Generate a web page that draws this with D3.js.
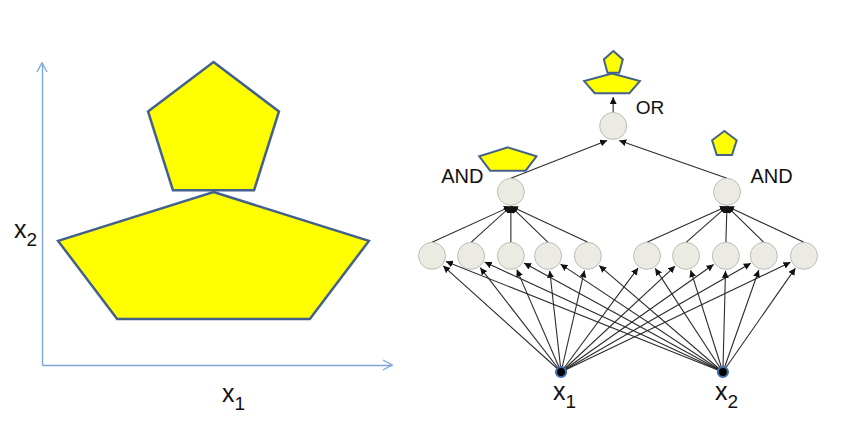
<!DOCTYPE html>
<html>
<head>
<meta charset="utf-8">
<script src="https://cdn.jsdelivr.net/npm/d3@7"></script>
<style>
  body { margin: 0; background: #fff; }
  text { font-family: "Liberation Sans", Arial, sans-serif; fill: #111; }
</style>
</head>
<body>
<div id="chart"></div>
<script>
// unit pentagon (x from left, y from top), every yellow shape is this one stretched
var pentagon = [[0.5, 0], [1, 0.385], [0.81, 1], [0.19, 1], [0, 0.385]];

// left panel: boxes of the two regions in axis units
var regionX0 = [3.03, 0.46];
var regionX1 = [6.77, 9.34];
var regionTop = [10.03, 5.73];
var regionBottom = [5.79, 1.52];

// right panel: network layout units
var inputX = [3.47, 7.82];
var inputNames = ["1", "2"];
var hiddenX = [0, 1.05, 2.12, 3.12, 4.19, 5.78, 6.83, 7.90, 8.92, 10];
var hiddenGroup = [0, 0, 0, 0, 0, 1, 1, 1, 1, 1];
var andX = [2.12, 7.93];
var orX = 4.87;
var layerY = {input: 0, hidden: 3.63, and: 5.63, or: 7.69, out: 8.59};

// little shapes drawn next to the gates
var iconX0 = [4.62, 4.09, 1.27, 7.53];
var iconX1 = [5.13, 5.59, 2.81, 8.19];
var iconTop = [10.03, 9.33, 7.02, 7.53];
var iconBottom = [9.35, 8.71, 6.29, 6.78];

var width = 848, height = 422;
var r = 13.5;

var svg = d3.select("#chart")
  .append("svg")
    .attr("width", width)
    .attr("height", height);

var defs = svg.append("defs");
defs.append("marker")
    .attr("id", "head")
    .attr("viewBox", "0 0 10 10")
    .attr("refX", 10)
    .attr("refY", 5)
    .attr("markerWidth", 7)
    .attr("markerHeight", 7)
    .attr("markerUnits", "userSpaceOnUse")
    .attr("orient", "auto")
  .append("path")
    .attr("d", "M0,0L10,5L0,10z")
    .attr("fill", "#111");

// ---------- left panel ----------
var xL = d3.scaleLinear().domain([0, 10]).range([42, 392]);
var yL = d3.scaleLinear().domain([0, 10]).range([365, 63]);
var axisColor = "#7ea6d8";

var xAxis = svg.append("g")
  .attr("transform", "translate(0," + yL(0) + ")")
  .call(d3.axisBottom(xL).tickValues([]).tickSizeOuter(0));
var yAxis = svg.append("g")
  .attr("transform", "translate(" + xL(0) + ",0)")
  .call(d3.axisLeft(yL).tickValues([]).tickSizeOuter(0));
[xAxis, yAxis].forEach(function(a) {
  a.select(".domain").attr("stroke", axisColor).attr("stroke-width", 1.4);
});

// open arrow heads at the axis ends
svg.append("path")
  .attr("d", "M" + (xL(10) - 9) + "," + (yL(0) - 5) + "L" + xL(10) + "," + yL(0) + "L" + (xL(10) - 9) + "," + (yL(0) + 5))
  .attr("fill", "none").attr("stroke", axisColor).attr("stroke-width", 1.4);
svg.append("path")
  .attr("d", "M" + (xL(0) - 5) + "," + (yL(10) + 9) + "L" + xL(0) + "," + yL(10) + "L" + (xL(0) + 5) + "," + (yL(10) + 9))
  .attr("fill", "none").attr("stroke", axisColor).attr("stroke-width", 1.4);

function shape(xs, ys, x0, x1, top, bottom) {
  return d3.line()
    .x(function(d) { return xs(x0 + d[0] * (x1 - x0)); })
    .y(function(d) { return ys(top + d[1] * (bottom - top)); })
    .curve(d3.curveLinearClosed)(pentagon);
}

svg.selectAll(".region")
  .data(regionX0)
  .enter()
  .append("path")
    .attr("class", "region")
    .attr("d", function(d, i) { return shape(xL, yL, regionX0[i], regionX1[i], regionTop[i], regionBottom[i]); })
    .attr("fill", "#ffff00")
    .attr("stroke", "#43618c")
    .attr("stroke-width", 2.5)
    .attr("stroke-linejoin", "miter");

// axis labels with subscripts
function subLabel(x, y, sub) {
  var t = svg.append("text")
    .attr("x", x)
    .attr("y", y)
    .style("font-size", "25px")
    .text("x");
  t.append("tspan")
    .attr("dy", 8)
    .style("font-size", "19px")
    .text(sub);
}
subLabel(xL(5) + 5, yL(0) + 37, "1");
subLabel(xL(0) - 28, yL(4.2), "2");

// ---------- right panel ----------
var xN = d3.scaleLinear().domain([0, 10]).range([432, 804]);
var yN = d3.scaleLinear().domain([0, 10]).range([372, 52]);

var edges = svg.append("g")
  .attr("stroke", "#2b2b2b")
  .attr("stroke-width", 1.1);

// input -> hidden, ending on the node rim
inputX.forEach(function(ix) {
  hiddenX.forEach(function(hx) {
    var x0 = xN(ix), y0 = yN(layerY.input), x1 = xN(hx), y1 = yN(layerY.hidden);
    var len = Math.hypot(x1 - x0, y1 - y0);
    var k = (len - r - 1.5) / len;
    edges.append("line")
      .attr("x1", x0).attr("y1", y0)
      .attr("x2", x0 + (x1 - x0) * k).attr("y2", y0 + (y1 - y0) * k)
      .attr("marker-end", "url(#head)");
  });
});

// hidden -> AND
hiddenX.forEach(function(hx, i) {
  edges.append("line")
    .attr("x1", xN(hx)).attr("y1", yN(layerY.hidden) - r)
    .attr("x2", xN(andX[hiddenGroup[i]])).attr("y2", yN(layerY.and) + r + 1)
    .attr("marker-end", "url(#head)");
});

// AND -> OR
andX.forEach(function(ax, i) {
  edges.append("line")
    .attr("x1", xN(ax)).attr("y1", yN(layerY.and) - r)
    .attr("x2", xN(orX) + (i === 0 ? -6 : 6)).attr("y2", yN(layerY.or) + r + 1)
    .attr("marker-end", "url(#head)");
});

// OR -> output
edges.append("line")
  .attr("x1", xN(orX)).attr("y1", yN(layerY.or) - r)
  .attr("x2", xN(orX)).attr("y2", yN(layerY.out))
  .attr("marker-end", "url(#head)");

// nodes
var nodeFill = "#ecebe3", nodeStroke = "#bdbdb6";
var gates = hiddenX.map(function(x) { return [x, layerY.hidden]; })
  .concat(andX.map(function(x) { return [x, layerY.and]; }))
  .concat([[orX, layerY.or]]);

svg.selectAll(".node")
  .data(gates)
  .enter()
  .append("circle")
    .attr("class", "node")
    .attr("cx", function(d) { return xN(d[0]); })
    .attr("cy", function(d) { return yN(d[1]); })
    .attr("r", r)
    .attr("fill", nodeFill)
    .attr("stroke", nodeStroke)
    .attr("stroke-width", 1);

svg.selectAll(".input")
  .data(inputX)
  .enter()
  .append("circle")
    .attr("class", "input")
    .attr("cx", function(d) { return xN(d); })
    .attr("cy", yN(layerY.input))
    .attr("r", 5)
    .attr("fill", "#000")
    .attr("stroke", "#3d6fa8")
    .attr("stroke-width", 2.2);

inputX.forEach(function(ix, i) {
  subLabel(xN(ix) - 8, yN(layerY.input) + 28, inputNames[i]);
});

// gate labels
svg.selectAll(".andLabel")
  .data(andX)
  .enter()
  .append("text")
    .attr("class", "andLabel")
    .attr("x", function(d, i) { return i === 0 ? xN(d) - r - 14 : xN(d) + r + 10; })
    .attr("y", yN(layerY.and) - 9)
    .attr("text-anchor", function(d, i) { return i === 0 ? "end" : "start"; })
    .style("font-size", "20px")
    .text("AND");

svg.append("text")
  .attr("x", xN(orX) + r + 9)
  .attr("y", yN(layerY.or) - 12)
  .style("font-size", "19px")
  .text("OR");

// small yellow shapes
svg.selectAll(".icon")
  .data(iconX0)
  .enter()
  .append("path")
    .attr("class", "icon")
    .attr("d", function(d, i) { return shape(xN, yN, iconX0[i], iconX1[i], iconTop[i], iconBottom[i]); })
    .attr("fill", "#ffff00")
    .attr("stroke", "#43618c")
    .attr("stroke-width", 2);
</script>
</body>
</html>
